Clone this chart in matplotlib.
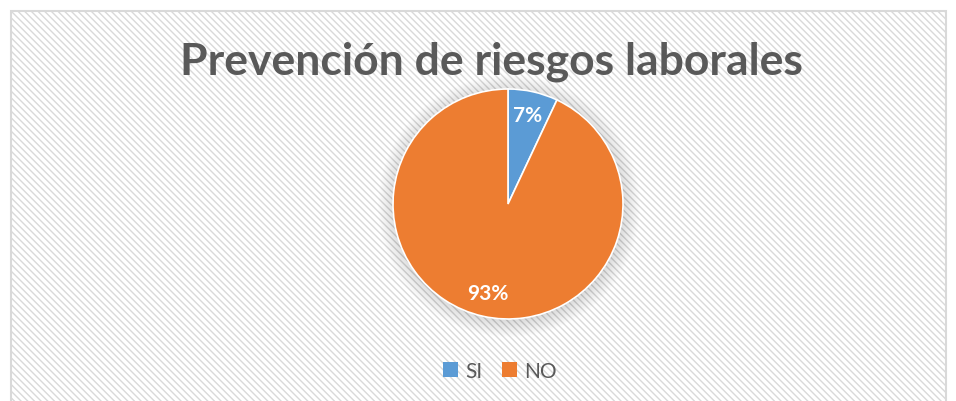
import matplotlib
matplotlib.use("Agg")
import matplotlib.pyplot as plt
from matplotlib.patches import Rectangle, Circle, Patch

# datos
categorias = ["SI", "NO"]
valores = [7, 93]
colores = ["#5B9BD5", "#ED7D31"]
titulo = "Prevención de riesgos laborales"

plt.rcParams["font.family"] = ["Lato", "DejaVu Sans"]
plt.rcParams["hatch.color"] = "#F3F3F3"
plt.rcParams["hatch.linewidth"] = 1.0

fig = plt.figure(figsize=(9.56, 4.02), dpi=100)
W, H = 956, 402

# fondo del grafico con rayas y borde
bg = fig.add_axes([0, 0, 1, 1])
bg.set_xlim(0, W)
bg.set_ylim(H, 0)
bg.axis("off")
bg.add_patch(Rectangle((11, 12), 935, 400, facecolor="white",
                       edgecolor="#D9D9D9", linewidth=1.5, hatch="\\\\\\\\\\"))

# sombra suave
cx, cy, r = 508, 205, 115
for i in range(18):
    bg.add_patch(Circle((cx + 1, cy + 2), r + 16 - i, facecolor="black",
                        alpha=0.007, linewidth=0))

bg.text(491, 62, titulo, ha="center", va="center", fontsize=32,
        fontweight="bold", color="#595959")

ax = fig.add_axes([(cx - r) / W, 1 - (cy + r) / H, 2 * r / W, 2 * r / H])
wedges, textos, pcts = ax.pie(valores, colors=colores, startangle=90,
                              counterclock=False, autopct="%1.0f%%",
                              pctdistance=0.79, radius=1,
                              wedgeprops=dict(edgecolor="white", linewidth=1.2))
for t in pcts:
    t.set_color("white")
    t.set_fontweight("bold")
    t.set_fontsize(15)
ax.set_xlim(-1, 1)
ax.set_ylim(-1, 1)
ax.set_aspect("equal")

handles = [Patch(facecolor=c, edgecolor="none") for c in colores]
fig.legend(handles, categorias, loc="center", bbox_to_anchor=(500 / W, 1 - 372 / H),
           ncol=2, frameon=False, fontsize=15, handlelength=0.75, handleheight=0.75,
           handletextpad=0.35, columnspacing=0.9, labelcolor="#595959")

fig.savefig("out.png", dpi=100)
